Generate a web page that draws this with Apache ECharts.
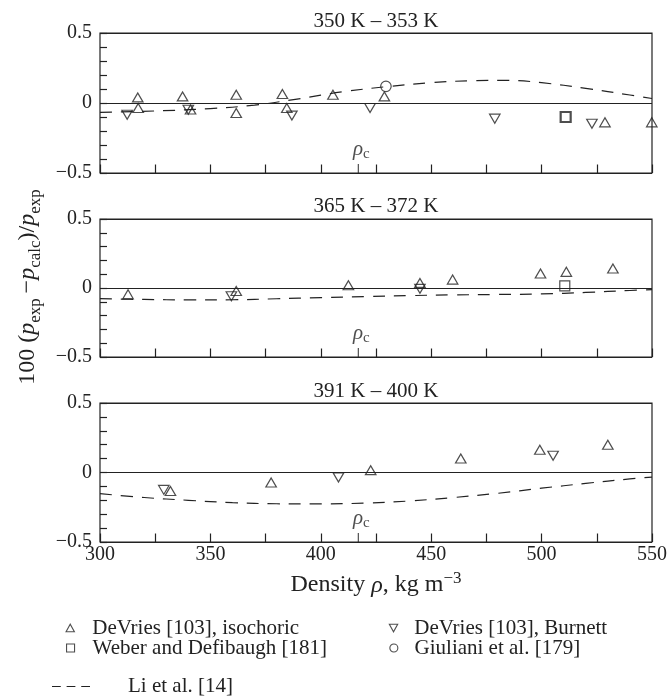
<!DOCTYPE html>
<html><head><meta charset="utf-8">
<script src="https://cdn.jsdelivr.net/npm/echarts@6/dist/echarts.min.js"></script>
<style>html,body{margin:0;padding:0;background:#fff}#c{width:669px;height:696px}</style>
</head><body><div id="c"></div>
<script>
const FONT = "'Liberation Serif','Times New Roman',serif";
const INK = '#222';

const panelTitles = ['350 K – 353 K', '365 K – 372 K', '391 K – 400 K'];
const xMin = 300, xMax = 550, xStep = 25, xLabelStep = 50;
const yMin = -0.5, yMax = 0.5, yStep = 0.5;
const rhoC = 417;

const NAME_ISO = 'DeVries [103], isochoric';
const NAME_BUR = 'DeVries [103], Burnett';
const NAME_WEB = 'Weber and Defibaugh [181]';
const NAME_GIU = 'Giuliani et al. [179]';
const NAME_LI = 'Li et al. [14]';

// Panel 1: 350 K - 353 K
const iso1 = [[317.1,0.040],[317.3,-0.036],[337.4,0.047],[341.0,-0.046],[361.7,0.059],[361.7,-0.071],[382.6,0.064],[384.6,-0.036],[405.5,0.059],[428.8,0.047],[528.7,-0.138],[549.9,-0.138]];
const bur1 = [[312.3,-0.084],[340.0,-0.048],[386.9,-0.090],[422.3,-0.036],[478.8,-0.112],[522.8,-0.148]];
const web1 = [[510.9,-0.100]];
const giu1 = [[429.5,0.119]];
const liRho1 = [300,325,350,370,390,410,430,450,470,485,500,520,540,550];
const li1 = [-0.067,-0.057,-0.040,-0.015,0.030,0.080,0.117,0.145,0.160,0.162,0.145,0.105,0.057,0.032];

// Panel 2: 365 K - 372 K
const iso2 = [[312.7,-0.046],[361.7,-0.022],[412.5,0.020],[444.9,0.037],[459.7,0.061],[499.5,0.105],[511.2,0.117],[532.3,0.141]];
const bur2 = [[359.5,-0.060],[444.9,-0.006]];
const web2 = [[510.5,0.015]];
const giu2 = [];
const liRho2 = [300,320,340,360,380,400,420,440,460,480,500,520,540,550];
const li2 = [-0.077,-0.083,-0.086,-0.085,-0.078,-0.070,-0.062,-0.055,-0.050,-0.047,-0.043,-0.032,-0.018,-0.012];

// Panel 3: 391 K - 400 K
const iso3 = [[331.9,-0.133],[377.5,-0.072],[422.6,0.017],[463.4,0.101],[499.2,0.164],[530.0,0.200]];
const bur3 = [[328.9,-0.125],[408.0,-0.036],[505.2,0.121]];
const web3 = [];
const giu3 = [];
const liRho3 = [300,320,340,360,380,400,420,440,460,480,500,520,540,550];
const li3 = [-0.152,-0.180,-0.200,-0.217,-0.225,-0.226,-0.220,-0.205,-0.180,-0.150,-0.113,-0.078,-0.046,-0.033];

const panels = [
  {iso: iso1, bur: bur1, web: web1, giu: giu1, liX: liRho1, liY: li1, webW: 2.2},
  {iso: iso2, bur: bur2, web: web2, giu: giu2, liX: liRho2, liY: li2, webW: 1.2},
  {iso: iso3, bur: bur3, web: web3, giu: giu3, liX: liRho3, liY: li3, webW: 1.2}
];
const gridTops = [33, 219, 403];
const gridHeights = [140, 138, 139];
const titleY = [21, 206.5, 391];

const hollow = w => ({color: 'rgba(0,0,0,0)', borderColor: INK, borderWidth: w});
const fmtY = v => (v < 0 ? '\u2212' + Math.abs(v) : String(v));

const grids = [], xAxes = [], yAxes = [], series = [];
panels.forEach((p, i) => {
  grids.push({left: 100, width: 552, top: gridTops[i], height: gridHeights[i],
    show: true, borderColor: INK, borderWidth: 1.2, backgroundColor: 'transparent', outerBoundsMode: 'none'});
  xAxes.push({type: 'value', gridIndex: i, min: xMin, max: xMax, interval: xStep,
    axisLine: {show: false, onZero: false},
    axisTick: {show: true, inside: true, length: 8.5, lineStyle: {color: INK, width: 1.2}},
    axisLabel: {show: i === 2, margin: 3, color: INK, fontFamily: FONT, fontSize: 20,
      formatter: v => (v % xLabelStep === 0 ? String(v) : '')},
    splitLine: {show: false}});
  yAxes.push({type: 'value', gridIndex: i, min: yMin, max: yMax, interval: yStep,
    axisLine: {show: false, onZero: false},
    axisTick: {show: true, inside: true, length: 7, lineStyle: {color: INK, width: 1.2}},
    minorTick: {show: true, splitNumber: 5, length: 7, lineStyle: {color: INK, width: 1.2}},
    axisLabel: {margin: 8, color: INK, fontFamily: FONT, fontSize: 20, formatter: fmtY},
    splitLine: {show: true, lineStyle: {color: INK, width: 1.2}},
    minorSplitLine: {show: false}});

  series.push({name: NAME_LI, type: 'line', xAxisIndex: i, yAxisIndex: i, smooth: 0.4,
    symbol: 'none', data: p.liX.map((x, k) => [x, p.liY[k]]),
    lineStyle: {color: INK, width: 1.2, type: [12, 9]}, itemStyle: {color: INK}, z: 2});
  const sc = (name, data, extra) => Object.assign({name, type: 'scatter', xAxisIndex: i, yAxisIndex: i,
    data, clip: false, z: 3, symbolSize: [10.5, 9], itemStyle: hollow(1.2)}, extra);
  series.push(sc(NAME_ISO, p.iso, {symbol: 'triangle'}));
  series.push(sc(NAME_BUR, p.bur, {symbol: 'triangle', symbolRotate: 180}));
  series.push(sc(NAME_WEB, p.web, {symbol: 'rect', symbolSize: 10, itemStyle: hollow(p.webW)}));
  series.push(sc(NAME_GIU, p.giu, {symbol: 'circle', symbolSize: 10.5}));
  series.push({type: 'scatter', xAxisIndex: i, yAxisIndex: i, data: [[rhoC, yMin]], clip: false, silent: true,
    symbol: 'rect', symbolSize: [1.2, 9], symbolOffset: [0, -4.5], itemStyle: {color: INK}, z: 4,
    label: {show: true, position: 'top', distance: 2, offset: [3, 0], formatter: '{r|\u03c1}{s|c}',
      rich: {r: {fontFamily: FONT, fontStyle: 'italic', fontSize: 21, lineHeight: 26, color: INK},
             s: {fontFamily: FONT, fontSize: 15, lineHeight: 14, verticalAlign: 'bottom', color: INK}}}});
});

const ICON_UP = 'path://M0,9L5,0L10,9Z';
const ICON_DOWN = 'path://M0,0L10,0L5,9Z';
const ICON_DASH = 'path://M0,0h9v1h-9zM15,0h9v1h-9zM30,0h9v1h-9z';
const legendBase = {orient: 'horizontal', padding: 0, selectedMode: false, itemHeight: 7.5, itemWidth: 9,
  textStyle: {fontFamily: FONT, fontSize: 21, color: INK, lineHeight: 21},
  itemStyle: {color: 'rgba(0,0,0,0)', borderColor: INK, borderWidth: 1.1}};
const leftText = pad => ({fontFamily: FONT, fontSize: 21, color: INK, lineHeight: 21, padding: [0, 0, 0, pad]});
const legends = [
  Object.assign({}, legendBase, {data: [{name: NAME_ISO, icon: ICON_UP}], left: 65.5, top: 617.5, textStyle: leftText(12.5)}),
  Object.assign({}, legendBase, {data: [{name: NAME_BUR, icon: ICON_DOWN}], left: 388.8, top: 617.5, textStyle: leftText(11.2)}),
  Object.assign({}, legendBase, {data: [{name: NAME_WEB, icon: 'rect'}], itemWidth: 8, itemHeight: 8, left: 66, top: 637.5, textStyle: leftText(13)}),
  Object.assign({}, legendBase, {data: [{name: NAME_GIU, icon: 'circle'}], itemWidth: 8, itemHeight: 8, left: 389.3, top: 637.5, textStyle: leftText(11.7)}),
  Object.assign({}, legendBase, {data: [{name: NAME_LI, icon: ICON_DASH}], left: 52, top: 676, itemWidth: 38, itemHeight: 1.3,
    itemStyle: {color: INK, borderWidth: 0}, textStyle: leftText(33)})
];

const graphics = panelTitles.map((t, i) => ({type: 'text', x: 376, y: titleY[i], silent: true,
  style: {text: t, fontFamily: FONT, fontSize: 21, fill: INK, align: 'center', verticalAlign: 'middle'}}));
graphics.push({type: 'text', x: 376, y: 585.2, silent: true,
  style: {text: 'Density {i|\u03c1}, kg m{u|\u22123}', fontFamily: FONT, fontSize: 24, lineHeight: 30, fill: INK,
    align: 'center', verticalAlign: 'middle',
    rich: {i: {fontFamily: FONT, fontStyle: 'italic', fontSize: 24, lineHeight: 30, fill: INK},
           u: {fontFamily: FONT, fontSize: 17, lineHeight: 18, verticalAlign: 'top', fill: INK}}}});
graphics.push({type: 'text', x: 28, y: 287, rotation: Math.PI / 2, silent: true,
  style: {text: '100 ({i|p}{s|exp}\u2009\u2212{i|p}{s|calc})/{i|p}{s|exp}', fontFamily: FONT, fontSize: 24, lineHeight: 32, fill: INK,
    align: 'center', verticalAlign: 'middle',
    rich: {i: {fontFamily: FONT, fontStyle: 'italic', fontSize: 24, lineHeight: 32, fill: INK},
           s: {fontFamily: FONT, fontSize: 17, lineHeight: 17, verticalAlign: 'bottom', fill: INK}}}});

const chart = echarts.init(document.getElementById('c'), null, {renderer: 'canvas'});
chart.setOption({
  animation: false,
  backgroundColor: '#fff',
  grid: grids, xAxis: xAxes, yAxis: yAxes, series: series,
  legend: legends, graphic: graphics
});
</script></body></html>
